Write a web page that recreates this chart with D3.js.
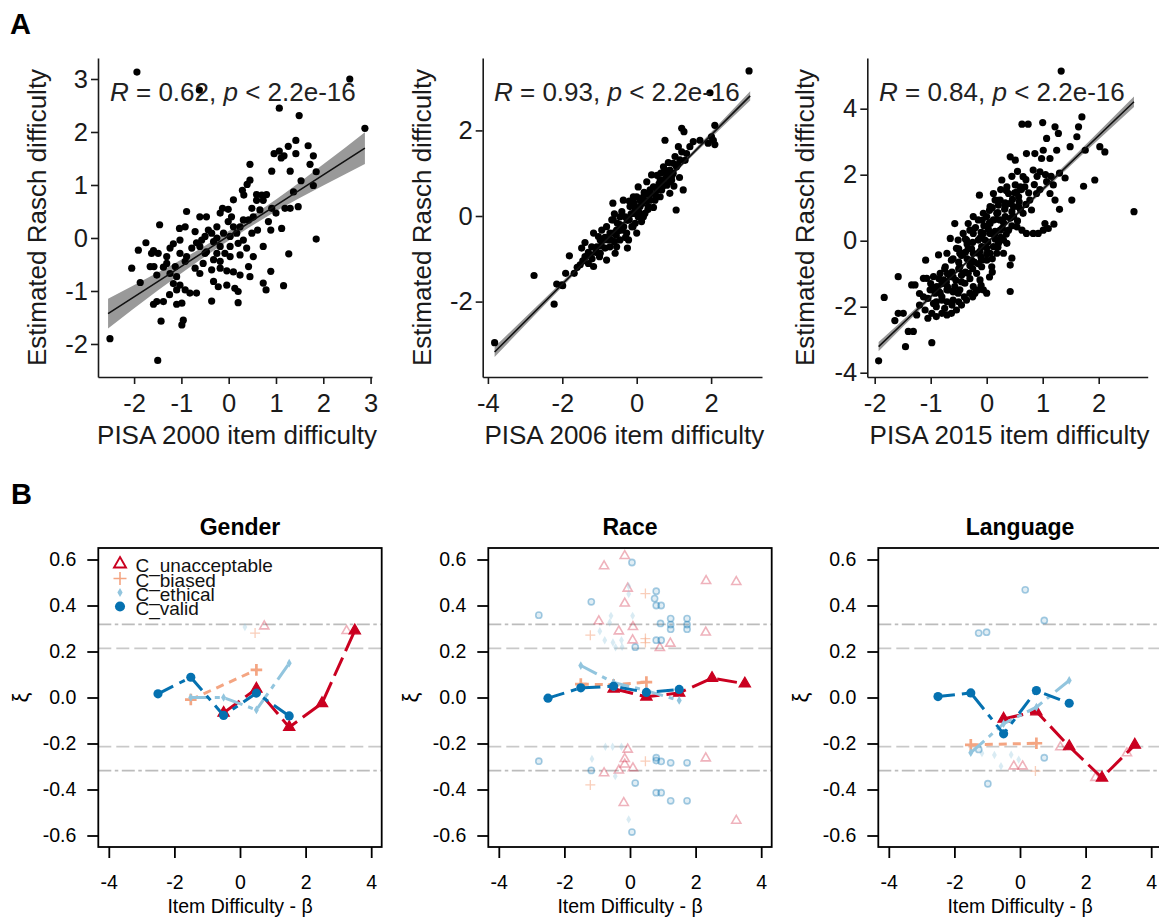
<!DOCTYPE html>
<html>
<head>
<meta charset="utf-8">
<script src="https://cdn.jsdelivr.net/npm/d3@7"></script>
<style>
  body { margin: 0; background: #fff; }
  svg { display: block; font-family: "Liberation Sans", Arial, sans-serif; }
</style>
</head>
<body>
<svg id="chart" width="1159" height="917"></svg>
<script>
// ---- Panel A data: [PISA difficulty, estimated Rasch difficulty] ----
const pisa2000 = [
  [-1.94,3.13],[-0.62,2.79],[2.56,3.0],[1.07,2.45],[1.49,2.31],[2.88,2.07],[-2.51,-1.90],[-1.50,-2.31],[1.85,-0.02],[1.27,-0.30],[1.16,-0.90],[0.89,-0.63],
  [1.42,1.84],[1.26,1.73],[1.07,1.64],[1.17,1.55],[0.96,1.59],[1.11,1.51],[1.42,1.59],[1.68,1.74],[1.79,1.55],[1.72,1.39],[1.30,1.26],[0.91,1.26],[1.85,1.25],
  [0.45,1.39],[0.45,1.09],[0.39,1.01],[0.29,0.90],[0.32,0.81],[1.53,1.08],[1.79,0.99],[1.37,0.87],[1.47,0.59],[1.30,0.56],[1.19,0.56],[0.59,0.82],[0.70,0.81],
  [0.80,0.82],[0.73,0.71],[0.59,0.71],[0.49,0.56],[0.66,0.53],[0.91,0.56],[1.00,0.47],[0.52,0.40],[0.42,0.34],[0.31,0.34],[0.24,0.21],[0.84,0.31],[1.12,0.18],
  [0.89,0.15],[0.61,0.15],[-0.13,0.56],[-0.01,0.54],[-0.18,0.47],[0.06,0.40],[-0.01,0.31],[0.10,0.21],[-0.25,0.21],[-0.11,0.09],[-0.36,0.09],[0.03,0.03],
  [-0.25,0.0],[-0.50,0.03],[-0.57,-0.04],[-0.61,-0.16],[-0.32,-0.07],[-0.47,-0.26],[-0.18,-0.16],[0.03,-0.16],[0.20,-0.10],[0.38,-0.19],[0.24,-0.32],[0.03,-0.35],
  [-0.18,-0.44],[-0.32,-0.41],[-0.54,-0.48],[-0.61,-0.67],[-0.36,-0.60],[-0.18,-0.57],[-0.04,-0.62],[0.10,-0.64],[0.24,-0.70],[0.42,-0.54],[0.45,-0.73],
  [-0.32,-0.82],[-0.22,-0.92],[-0.04,-0.89],[0.13,-0.95],[0.20,-1.01],[0.20,-1.22],[-0.36,-1.19],[-0.68,-1.04],[-0.82,-1.04],[-0.92,-0.98],[-1.03,-0.89],
  [-1.10,-0.98],[-1.17,-0.86],[-0.99,-1.23],[-0.96,-1.55],[-0.99,-1.64],[-1.25,-1.07],[-1.10,-1.25],[-1.38,-1.20],[-1.59,-1.25],[-1.52,-1.20],[-1.43,-1.57],
  [-1.87,-0.84],[-2.05,-0.57],[-1.91,-0.23],[-1.75,-0.09],[-1.59,-0.24],[-1.46,0.25],[-1.58,-0.54],[-1.38,-0.55],[-1.49,-0.29],[-1.31,-0.35],[-1.24,-0.19],
  [-1.17,-0.11],[-1.04,0.18],[-0.89,0.50],[-0.92,0.21],[-1.03,-0.29],[-0.89,-0.35],[-0.78,-0.19],[-0.68,-0.09],[-0.71,0.12],[-0.61,0.40],[-0.47,0.40],
  [-0.71,-0.57],[-0.92,-0.44],[-1.13,-0.54],[-1.24,-0.67],[-1.10,-0.73],[-1.52,-0.70],[-1.63,-0.29],[-1.66,-0.54],[-1.31,-0.48],[-1.03,-0.04],[-0.43,0.15],
  [-0.50,-0.29],[-0.25,-0.29],[-0.08,-0.29],[0.17,0.09],[0.31,-0.04],[0.49,0.09],[0.73,-0.16],[0.52,-0.35],[0.73,-0.85],[0.79,-0.98],[0.10,0.72]
];
const pisa2006 = [
  [3.02,3.39],[1.97,2.88],[-3.82,-2.96],[-2.76,-1.39],[-2.22,-2.06],[-2.15,-1.59],[-1.99,-1.63],[-1.81,-0.93],[-1.91,-1.34],[-1.52,-1.14],[-1.39,-0.62],
  [-1.30,-1.11],[-1.16,-0.40],[-1.16,-1.18],[-1.07,-0.72],[-0.98,-0.87],[-0.89,-0.56],[-0.81,-0.25],[-0.81,-1.03],[-0.72,-0.72],[-0.64,0.30],[-0.63,-0.40],
  [-0.58,-0.87],[-0.52,-0.17],[-0.45,-0.56],[-0.36,0.37],[-0.31,-0.02],[-0.27,-0.40],[-0.25,-0.75],[-0.18,0.22],[-0.13,-0.25],[-0.09,0.45],[-0.04,0.06],
  [0.0,-0.40],[0.04,0.68],[0.09,0.22],[0.13,-0.13],[0.18,0.45],[0.27,0.80],[0.31,0.22],[0.36,0.61],[0.40,0.96],[0.49,0.37],[0.54,0.61],[0.63,0.84],[0.67,0.61],
  [0.72,1.15],[0.76,1.77],[0.81,0.96],[0.81,0.72],[0.89,1.07],[0.94,0.84],[0.98,1.23],[1.03,1.39],[1.06,0.14],[1.12,1.62],[1.16,1.31],[1.21,2.05],[1.25,0.61],
  [1.27,1.97],[1.34,1.46],[1.43,1.62],[1.52,1.74],[1.70,1.77],[1.92,1.70],[2.06,1.77],[2.10,2.12],[2.10,1.67],[2.01,1.85],[-1.48,-0.75],[-1.25,-0.91],
  [-1.03,-0.48],[-0.94,-0.33],[-0.72,-0.40],[-0.67,-0.09],[-0.45,-0.02],[-0.40,-0.33],[-0.20,-0.09],[-0.09,0.06],[0.04,-0.02],[0.09,0.37],[0.22,0.06],
  [0.27,0.53],[0.45,0.68],[0.58,0.68],[0.72,0.84],[0.85,0.92],[0.89,0.80],[0.76,1.07],[0.98,1.00],[1.07,1.15],[1.21,1.50],[0.89,0.53],[0.63,0.45],
  [-0.22,-0.56],[-0.54,-0.72],[-0.76,-0.56],[-0.98,-0.56],[-1.21,-0.72],[-1.39,-0.95],[-1.68,-1.34],[-2.01,-1.61],[-0.07,0.30],[0.18,-0.02],[0.36,0.37],
  [-0.04,-0.17],[-0.54,-0.33],[-0.63,-0.09],
  [-1.6,-1.2],[-1.45,-1.05],[-1.3,-0.85],[-1.1,-0.85],[-0.95,-0.7],[-0.85,-0.5],[-0.7,-0.55],[-0.55,-0.45],[-0.45,-0.2],[-0.35,-0.25],[-0.25,-0.1],
  [-0.15,0.05],[-0.05,0.2],[0.05,0.1],[0.15,0.3],[0.25,0.35],[0.35,0.5],[0.5,0.5],[0.6,0.75],[0.7,0.7],[0.8,0.9],[0.95,0.95],[1.1,1.2],[1.3,1.3],
  [-1.2,-1.0],[-1.0,-0.95],[-0.85,-0.75],[-0.6,-0.6],[-0.5,-0.35],[-0.3,-0.5],[-0.1,-0.25],[0.1,0.0],[0.3,0.15],[0.45,0.2],[0.55,0.95],[0.65,1.0],
  [0.85,1.25],[1.0,0.7],[1.15,0.9],[0.2,0.55],[0.0,0.45],[-0.2,0.35],[-0.4,0.1],[-0.6,0.05]
];
const pisa2015 = [
  [1.33,5.14],[2.63,0.88],[-1.93,-3.64],[-1.83,-1.72],[-1.45,-3.21],[-0.98,-3.09],[-1.40,-2.75],[-1.31,-2.75],[-1.64,-2.42],[-1.58,-2.20],[-1.49,-2.20],
  [-1.34,-1.34],[-1.28,-1.34],[-1.58,-1.09],[-1.09,-0.59],[-1.13,-1.14],[-1.07,-1.14],[-0.95,-1.09],[-1.10,-2.10],[-0.98,-2.20],[-0.95,-1.90],[-1.25,-2.25],
  [-0.86,-0.43],[-0.83,-1.59],[-0.80,-2.20],[-0.71,-2.25],[-0.63,-2.20],[-0.54,-2.10],[-0.45,-1.95],[-0.36,-1.80],[-0.30,-1.59],[-0.21,-1.59],[-0.15,-1.49],
  [-0.06,-1.49],[0.0,-1.59],[0.42,-1.54],[0.45,-0.53],[0.42,-0.74],[-0.57,0.52],[-0.65,0.07],[-0.54,-0.23],[-0.71,-0.38],[-0.74,-0.79],[-0.65,-1.09],
  [-0.57,-1.39],[-0.48,-0.79],[-0.42,-0.38],[-0.36,0.02],[-0.30,0.32],[-0.24,0.73],[-0.15,0.63],[-0.13,1.38],[-0.06,0.22],[0.0,0.73],[0.06,1.03],[0.12,1.43],
  [0.18,0.83],[0.24,1.23],[0.27,1.84],[0.33,1.03],[0.39,1.43],[0.42,2.54],[0.51,2.44],[0.51,1.69],[0.48,1.03],[0.57,1.33],[0.65,1.94],[0.63,3.53],[0.74,3.53],
  [1.00,3.58],[0.71,2.64],[0.86,2.64],[0.83,2.14],[0.95,2.09],[1.01,2.74],[0.98,2.49],[1.13,2.49],[1.07,3.10],[1.22,3.45],[1.28,3.25],[1.25,2.74],[1.49,2.85],
  [1.61,3.15],[1.64,3.45],[1.70,3.75],[1.76,2.74],[2.02,2.85],[2.11,2.69],[1.93,1.84],[1.73,1.65],[1.52,1.23],[0.80,0.93],[0.83,0.22],[1.04,0.52],[1.10,0.37],
  [0.71,0.22],[1.19,1.69],[1.13,1.43],[1.22,1.23],[1.07,1.79],[0.48,0.73],[0.39,0.32],[0.30,0.02],[0.24,0.32],[0.15,0.22],[0.12,-0.18],[0.06,-0.38],[0.0,-0.59],
  [-0.09,-0.79],[-0.18,-0.99],[-0.24,-0.38],[-0.33,-0.99],[-0.39,-1.29],[-0.48,-1.49],[-0.60,-1.80],[-0.68,-1.49],[-0.77,-1.19],[-0.83,-0.99],[-0.89,-1.39],
  [-0.80,-1.80],[-0.92,-1.59],[-0.63,-0.59],[-0.51,0.02],[-0.42,0.22],[-0.33,0.52],[-0.24,0.22],[-0.15,0.02],[-0.09,-0.18],[-0.06,0.83],[0.06,0.52],[0.12,0.63],
  [0.21,1.08],[0.33,0.73],[0.42,1.13],[0.54,1.48],[0.60,1.63],[0.68,1.63],[0.77,1.23],[0.89,1.43],[0.65,0.83],[0.57,1.03],[-0.42,-0.99],[-0.48,-0.38],
  [-0.27,-0.59],[-0.15,-0.38],[-0.33,-0.23],[0.12,0.22],[0.24,0.63],[0.36,1.63],[0.15,1.23],[0.06,0.22],[-0.03,0.02],[-0.71,-1.49],[-1.01,-1.49],[-1.13,-1.70],
  [-0.71,-1.85],[-0.51,-1.59],[-0.24,-1.39],[-0.12,-1.19],[-0.09,-0.59],[0.09,-0.79],[0.18,-0.38],[0.30,-0.38],[0.21,-0.08],[0.36,-0.08],[0.54,0.42],[0.63,0.32],
  [0.92,0.22],[1.01,0.32],
  [-1.05,-1.75],[-0.9,-1.85],[-0.8,-1.7],[-0.95,-1.45],[-0.85,-1.55],[-0.7,-1.4],[-0.6,-1.55],[-0.85,-1.15],[-0.72,-1.25],[-0.6,-1.1],[-0.45,-1.25],
  [-0.3,-1.15],[-0.75,-0.85],[-0.62,-0.95],[-0.5,-0.85],[-0.38,-0.95],[-0.25,-0.85],[-0.6,-0.55],[-0.5,-0.65],[-0.35,-0.55],[-0.22,-0.65],[-0.1,-0.5],
  [-0.5,-0.25],[-0.38,-0.35],[-0.27,-0.25],[-0.12,-0.32],[0.0,-0.22],[-0.38,0.05],[-0.25,-0.05],[-0.12,0.08],[0.02,-0.04],[0.15,0.05],[-0.25,0.32],
  [-0.1,0.25],[0.03,0.35],[0.15,0.28],[0.28,0.38],[-0.08,0.62],[0.05,0.55],[0.18,0.65],[0.3,0.55],[0.42,0.68],[0.05,0.92],[0.2,0.85],[0.32,0.95],
  [0.45,0.88],[0.2,1.22],[0.33,1.15],[0.46,1.25],[0.58,1.18],[0.35,1.52],[0.5,1.45],[0.62,1.55],
  [-0.9,-2.0],[-0.75,-2.05],[-0.62,-1.95],[-0.5,-1.85],[-0.4,-1.7],[-0.25,-1.7],[-0.1,-1.35],[0.05,-1.1],[0.1,-0.95],[-0.55,-1.2],[-0.45,-1.05],
  [-0.3,-0.75],[-0.15,-0.7],[0.0,-0.4],[0.1,-0.55],[0.2,-0.2],[0.25,0.1],[0.35,0.2],[0.45,0.45],[0.55,0.6],[0.6,0.95],[0.7,1.1],[0.75,1.45],[0.85,1.7],
  [0.95,1.55],[1.05,2.0],[0.9,1.95],[0.7,1.85],[0.55,2.1],[0.45,1.95],[0.25,1.55],[0.1,1.0],[-0.05,0.45],[-0.2,0.4],[-0.35,-0.1],[-0.45,-0.45],[-0.7,-1.0],
  [-0.8,-1.3],[-1.0,-1.3],[-1.2,-1.6],[-1.2,-1.95],[-1.05,-2.35],[-0.9,-2.3],[1.15,1.95],[1.3,2.05],[1.4,1.9],[1.2,0.5],[1.3,0.95]
];
// regression fit with confidence band: [x, fit, half width]
const fit2000 = [[-2.55,-1.426,0.28],[-1.5,-0.823,0.17],[-0.5,-0.248,0.10],[0.2,0.155,0.09],[1.0,0.615,0.11],[2.0,1.19,0.20],[2.88,1.696,0.30]];
const fit2006 = [[-3.82,-3.177,0.12],[-2.0,-1.592,0.06],[0.0,0.15,0.04],[1.5,1.457,0.05],[3.05,2.807,0.11]];
const fit2015 = [[-1.93,-3.21,0.14],[-1.0,-1.697,0.07],[0.0,-0.07,0.05],[1.0,1.557,0.07],[2.63,4.209,0.16]];
const rValues = ["0.62", "0.93", "0.84"];
const xTicks2000 = [-2,-1,0,1,2,3], yTicks2000 = [-2,-1,0,1,2,3];
const xTicks2006 = [-4,-2,0,2],     yTicks2006 = [-2,0,2];
const xTicks2015 = [-2,-1,0,1,2],   yTicks2015 = [-4,-2,0,2,4];

// ---- Panel B data: mean xi per difficulty bin ----
const bins = [-2.5,-1.5,-0.5,0.5,1.5,2.5,3.5];
const genderUnacc   = [null,null,-0.067,0.038,-0.129,-0.025,0.291];
const genderBiased  = [null,-0.009,null,0.120,null,null,null];
const genderEthical = [null,0.0,0.0,-0.054,0.149,null,null];
const genderValid   = [0.016,0.088,-0.078,0.019,-0.080,null,null];
const raceUnacc     = [null,null,0.038,0.003,0.020,0.084,0.060];
const raceBiased    = [null,0.058,0.055,0.067,null,null,null];
const raceEthical   = [null,0.139,0.065,0.030,-0.013,null,null];
const raceValid     = [-0.003,0.042,0.049,0.022,0.035,null,null];
const langUnacc     = [null,null,-0.093,-0.061,-0.213,-0.349,-0.206];
const langBiased    = [null,-0.206,null,-0.199,null,null,null];
const langEthical   = [null,-0.240,-0.114,-0.042,0.074,null,null];
const langValid     = [0.004,0.020,-0.158,0.030,-0.025,null,null];

// item-level points beyond thresholds (faint): [difficulty, xi]
const genderUnaccItems = [[0.74,0.31],[3.25,0.29]];
const genderBiasedItems = [[0.46,0.28]];
const genderEthicalItems = [[0.15,0.306]];
const genderValidItems = [];
const raceUnaccItems = [[-0.16,0.616],[-0.79,0.571],[2.32,0.507],[3.24,0.503],[-0.07,0.474],[-0.16,0.409],[-0.95,0.332],[0.09,0.307],[-0.34,0.288],
  [0.08,0.249],[1.23,0.235],[2.31,0.283],[0.91,0.216],[-0.07,-0.226],[-0.16,-0.267],[-0.16,-0.291],[0.09,-0.307],[-0.34,-0.317],[-0.79,-0.329],
  [2.31,-0.264],[-0.19,-0.458],[3.24,-0.535]];
const raceBiasedItems = [[0.47,0.452],[-1.21,0.271],[0.47,0.256],[0.47,0.239],[0.47,-0.277],[-1.21,-0.380]];
const raceEthicalItems = [[-0.04,0.484],[-0.04,0.45],[-0.58,0.355],[0.08,0.355],[-0.92,0.288],[-0.77,0.249],[-0.52,0.239],[-0.26,0.249],[-0.44,0.218],
  [-0.24,0.22],[-0.62,0.326],[-1.16,-0.267],[-0.75,-0.214],[-0.53,-0.214],[-0.26,-0.214],[-0.45,-0.342],[-0.04,-0.530]];
const raceValidItems = [[0.06,0.587],[-1.18,0.416],[-2.78,0.358],[0.80,0.462],[0.75,0.430],[0.80,0.40],[0.95,0.40],[0.93,0.322],[1.24,0.343],[1.24,0.317],
  [1.24,0.297],[1.74,0.343],[1.74,0.317],[1.74,0.297],[0.80,0.249],[0.95,0.249],[0.16,0.219],[-2.78,-0.277],[-1.18,-0.317],[0.16,-0.372],[0.80,-0.262],
  [0.80,-0.274],[0.95,-0.278],[1.24,-0.284],[1.74,-0.284],[0.80,-0.414],[0.95,-0.414],[1.24,-0.449],[1.74,-0.449],[0.06,-0.585]];
const langUnaccItems = [[-0.19,-0.299],[0.08,-0.299],[1.23,-0.216],[2.3,-0.349],[3.26,-0.242]];
const langBiasedItems = [[0.47,-0.32]];
const langEthicalItems = [[-1.16,-0.242],[-0.78,-0.25],[-0.58,-0.299],[-0.27,-0.249],[-0.04,-0.27]];
const langValidItems = [[0.16,0.468],[0.74,0.335],[-1.26,0.280],[-1.02,0.284],[-1.26,-0.226],[0.74,-0.262],[-0.98,-0.375]];

const innerLines = [0.214, -0.214];   // dashed
const outerLines = [0.318, -0.318];   // dash-dot
const bXTicks = [-4,-2,0,2,4];
const bYTicks = [-0.6,-0.4,-0.2,0,0.2,0.4,0.6];
const seriesNames = ["C_unacceptable","C_biased","C_ethical","C_valid"];

const svg = d3.select("#chart");
svg.append("rect").attr("width", 1159).attr("height", 917).attr("fill", "#fff");

// panel letters
svg.append("text").attr("x", 10).attr("y", 33.5).attr("font-size", 29).attr("font-weight", "bold").text("A");
svg.append("text").attr("x", 11).attr("y", 504).attr("font-size", 29).attr("font-weight", "bold").text("B");

// ---------------- Panel A ----------------
let aPanels = [
  {pts: pisa2000, band: fit2000, xt: xTicks2000, yt: yTicks2000, year: "2000", r: rValues[0],
   left: 98, right: 372, xDom: [-2.763, 3.03], yDom: [-2.623, 3.396], textX: 110, titleX: 36.7},
  {pts: pisa2006, band: fit2006, xt: xTicks2006, yt: yTicks2006, year: "2006", r: rValues[1],
   left: 482.7, right: 762, xDom: [-4.14, 3.368], yDom: [-3.762, 3.692], textX: 494, titleX: 421.7},
  {pts: pisa2015, band: fit2015, xt: xTicks2015, yt: yTicks2015, year: "2015", r: rValues[2],
   left: 867.3, right: 1147.7, xDom: [-2.132, 2.875], yDom: [-4.13, 5.536], textX: 879, titleX: 805}
];
const aTop = 58, aBottom = 377;

aPanels.forEach(function(p){
  let x = d3.scaleLinear().domain(p.xDom).range([p.left, p.right]),
      y = d3.scaleLinear().domain(p.yDom).range([aBottom, aTop]);
  let g = svg.append("g");

  g.append("path").datum(p.band)
    .attr("d", d3.area().curve(d3.curveMonotoneX)
      .x(function(d){ return x(d[0]); })
      .y0(function(d){ return y(d[1] - d[2]); })
      .y1(function(d){ return y(d[1] + d[2]); }))
    .attr("fill", "#999");

  g.selectAll("circle").data(p.pts).join("circle")
    .attr("cx", function(d){ return x(d[0]); })
    .attr("cy", function(d){ return y(d[1]); })
    .attr("r", 3.6)
    .attr("fill", "#000");

  g.append("path").datum(p.band)
    .attr("d", d3.line().x(function(d){ return x(d[0]); }).y(function(d){ return y(d[1]); }))
    .attr("fill", "none").attr("stroke", "#111").attr("stroke-width", 1.6);

  // axes
  let xa = g.append("g").attr("transform", "translate(0," + aBottom + ")")
    .call(d3.axisBottom(x).tickValues(p.xt).tickSize(7).tickSizeOuter(0).tickPadding(10).tickFormat(function(d){ return String(d); }));
  let ya = g.append("g").attr("transform", "translate(" + p.left + ",0)")
    .call(d3.axisLeft(y).tickValues(p.yt).tickSize(7).tickSizeOuter(0).tickPadding(3).tickFormat(function(d){ return String(d); }));
  [xa, ya].forEach(function(a){
    a.attr("font-size", 25.5).attr("font-family", null).attr("color", "#1a1a1a");
    a.selectAll(".domain, .tick line").attr("stroke-width", 1.6);
  });

  // axis titles
  g.append("text")
    .attr("x", (p.left + p.right) / 2 + 2).attr("y", 444)
    .attr("text-anchor", "middle").attr("font-size", 26).attr("fill", "#1a1a1a")
    .text("PISA " + p.year + " item difficulty");
  g.append("text")
    .attr("transform", "translate(" + (p.titleX + 9) + "," + ((aTop + aBottom) / 2) + ") rotate(-90)")
    .attr("text-anchor", "middle").attr("font-size", 26).attr("fill", "#1a1a1a")
    .text("Estimated Rasch difficulty");

  // correlation label
  let t = g.append("text").attr("x", p.textX).attr("y", 101).attr("font-size", 26).attr("fill", "#222");
  t.append("tspan").attr("font-style", "italic").text("R");
  t.append("tspan").text(" = " + p.r + ", ");
  t.append("tspan").attr("font-style", "italic").text("p");
  t.append("tspan").text(" < 2.2e-16");
});

// ---------------- Panel B ----------------
let bPanels = [
  {title: "Gender",   series: [genderUnacc, genderBiased, genderEthical, genderValid],
   items: [genderUnaccItems, genderBiasedItems, genderEthicalItems, genderValidItems]},
  {title: "Race",     series: [raceUnacc, raceBiased, raceEthical, raceValid],
   items: [raceUnaccItems, raceBiasedItems, raceEthicalItems, raceValidItems]},
  {title: "Language", series: [langUnacc, langBiased, langEthical, langValid],
   items: [langUnaccItems, langBiasedItems, langEthicalItems, langValidItems]}
];

const colors = ["#ca0020", "#f4a582", "#92c5de", "#0571b0"],
      dashes = ["20,7", "8,6", "18,6,5,6", "17,7,6,7"];

function plusPath(s){ return "M" + (-s) + ",0H" + s + "M0," + (-s) + "V" + s; }

// main bin marker
function drawMarker(sel, k){
  if (k === 0) sel.attr("d", d3.symbol(d3.symbolTriangle, 56)()).attr("fill", colors[0]).attr("stroke", colors[0]).attr("stroke-width", 1.2);
  if (k === 1) sel.attr("d", plusPath(5.8)).attr("fill", "none").attr("stroke", colors[1]).attr("stroke-width", 2.7);
  if (k === 2) sel.attr("d", d3.symbol(d3.symbolDiamond, 22)()).attr("fill", colors[2]);
  if (k === 3) sel.attr("d", d3.symbol(d3.symbolCircle, 66)()).attr("fill", colors[3]);
}
// faint item marker
function drawItem(sel, k){
  if (k === 0) sel.attr("d", d3.symbol(d3.symbolTriangle, 36)()).attr("fill", "none").attr("stroke", colors[0]).attr("stroke-opacity", 0.3).attr("stroke-width", 1.6);
  if (k === 1) sel.attr("d", plusPath(5)).attr("fill", "none").attr("stroke", colors[1]).attr("stroke-opacity", 0.55).attr("stroke-width", 1.3);
  if (k === 2) sel.attr("d", d3.symbol(d3.symbolDiamond, 20)()).attr("fill", colors[2]).attr("fill-opacity", 0.35);
  if (k === 3) sel.attr("d", d3.symbol(d3.symbolCircle, 30)()).attr("fill", colors[3]).attr("fill-opacity", 0.12)
                  .attr("stroke", colors[3]).attr("stroke-opacity", 0.35).attr("stroke-width", 1.6);
}

const bTop = 548, bH = 299, bW = 283.4;

bPanels.forEach(function(p, i){
  let left = 98.3 + 390 * i;
  let x = d3.scaleLinear().domain([-4.32, 4.32]).range([left, left + bW]),
      y = d3.scaleLinear().domain([-0.65, 0.65]).range([bTop + bH, bTop]);
  let g = svg.append("g");

  // threshold lines
  g.selectAll(".inner").data(innerLines).join("line")
    .attr("x1", left).attr("x2", left + bW)
    .attr("y1", function(d){ return y(d); }).attr("y2", function(d){ return y(d); })
    .attr("stroke", "#c9c9c9").attr("stroke-width", 1.7).attr("stroke-dasharray", "13,5");
  g.selectAll(".outer").data(outerLines).join("line")
    .attr("x1", left).attr("x2", left + bW)
    .attr("y1", function(d){ return y(d); }).attr("y2", function(d){ return y(d); })
    .attr("stroke", "#bcbcbc").attr("stroke-width", 1.7).attr("stroke-dasharray", "13,3.5,3.5,3.5");

  // faint item points
  p.items.forEach(function(arr, k){
    g.append("g").selectAll("path").data(arr).join("path")
      .attr("transform", function(d){ return "translate(" + x(d[0]) + "," + y(d[1]) + ")"; })
      .call(drawItem, k);
  });

  // bin means: lines and markers
  p.series.forEach(function(vals, k){
    let pts = bins.map(function(b, j){ return [b, vals[j]]; }).filter(function(d){ return d[1] !== null; });
    g.append("path").datum(pts)
      .attr("d", d3.line().x(function(d){ return x(d[0]); }).y(function(d){ return y(d[1]); }))
      .attr("fill", "none").attr("stroke", colors[k]).attr("stroke-width", 3)
      .attr("stroke-dasharray", dashes[k]);
    g.append("g").selectAll("path").data(pts).join("path")
      .attr("transform", function(d){ return "translate(" + x(d[0]) + "," + y(d[1]) + ")"; })
      .call(drawMarker, k);
  });

  // box
  g.append("rect").attr("x", left).attr("y", bTop).attr("width", bW).attr("height", bH)
    .attr("fill", "none").attr("stroke", "#000").attr("stroke-width", 1.8);

  // axes
  let xa = g.append("g").attr("transform", "translate(0," + (bTop + bH) + ")")
    .call(d3.axisBottom(x).tickValues(bXTicks).tickSize(11).tickSizeOuter(0).tickPadding(17).tickFormat(function(d){ return String(d); }));
  let ya = g.append("g").attr("transform", "translate(" + left + ",0)")
    .call(d3.axisLeft(y).tickValues(bYTicks).tickSize(11).tickSizeOuter(0).tickPadding(11).tickFormat(function(d){ return d.toFixed(1); }));
  [xa, ya].forEach(function(a){
    a.attr("font-size", 19.5).attr("font-family", null).attr("color", "#000");
    a.select(".domain").remove();
    a.selectAll(".tick line").attr("stroke-width", 1.8);
  });

  // titles
  g.append("text").attr("x", left + bW / 2).attr("y", 535)
    .attr("text-anchor", "middle").attr("font-size", 23).attr("font-weight", "bold").text(p.title);
  g.append("text").attr("x", left + bW / 2).attr("y", 912.5)
    .attr("text-anchor", "middle").attr("font-size", 19.5).text("Item Difficulty - \u03B2");
  g.append("text")
    .attr("transform", "translate(" + (left - 70) + "," + y(0) + ") rotate(-90)")
    .attr("text-anchor", "middle").attr("font-size", 22).text("\u03BE");
});

// legend (inside Gender panel)
let leg = svg.append("g");
const legRows = [565.5, 580, 594, 608];
seriesNames.forEach(function(name, k){
  let m = leg.append("path").attr("transform", "translate(120," + (legRows[k] - 1.5) + ")");
  if (k === 0) m.attr("d", d3.symbol(d3.symbolTriangle, 62)()).attr("fill", "none").attr("stroke", colors[0]).attr("stroke-width", 1.9);
  if (k === 1) m.attr("d", plusPath(6.5)).attr("fill", "none").attr("stroke", colors[1]).attr("stroke-width", 1.6);
  if (k === 2) m.attr("d", d3.symbol(d3.symbolDiamond, 24)()).attr("fill", colors[2]);
  if (k === 3) m.attr("d", d3.symbol(d3.symbolCircle, 80)()).attr("fill", colors[3]);
  leg.append("text").attr("x", 135.5).attr("y", legRows[k] + 6.8).attr("font-size", 19).attr("fill", "#111").text(name);
});
</script>
</body>
</html>
